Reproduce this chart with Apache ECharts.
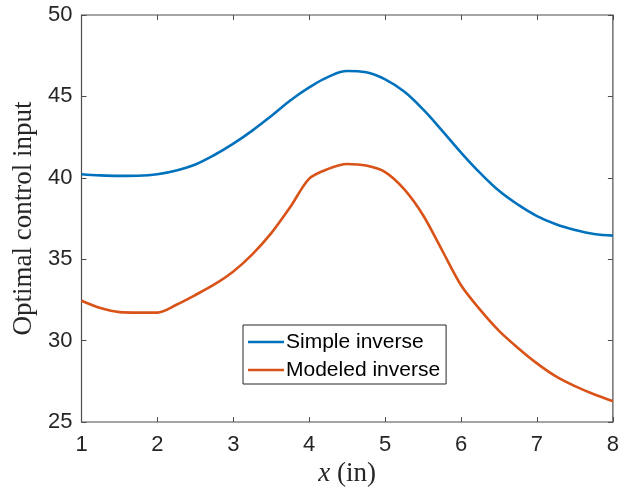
<!DOCTYPE html>
<html>
<head>
<meta charset="utf-8">
<script src="https://cdn.jsdelivr.net/npm/echarts@6/dist/echarts.min.js"></script>
<style>html,body{margin:0;padding:0;background:#fff}#c{width:622px;height:495px}</style>
</head>
<body>
<div id="c"></div>
<script>
var xValues = [1.0,1.25,1.5,1.75,2.0,2.25,2.5,2.75,3.0,3.25,3.5,3.75,4.0,4.25,4.5,4.75,5.0,5.25,5.5,5.75,6.0,6.25,6.5,6.75,7.0,7.25,7.5,7.75,8.0];
var simpleInverse = [40.22,40.15,40.12,40.13,40.22,40.45,40.82,41.4,42.1,42.9,43.8,44.75,45.55,46.2,46.56,46.48,46.05,45.3,44.2,42.9,41.55,40.3,39.2,38.35,37.65,37.15,36.8,36.55,36.45];
var modeledInverse = [32.45,32.0,31.75,31.72,31.72,32.2,32.8,33.45,34.25,35.3,36.6,38.2,39.95,40.55,40.85,40.75,40.35,39.3,37.7,35.55,33.4,31.9,30.6,29.55,28.6,27.8,27.2,26.7,26.28];
var seriesNames = ['Simple inverse','Modeled inverse'];
var xTicks = [1,2,3,4,5,6,7,8];
var yTicks = [25,30,35,40,45,50];

function pairs(ys){ return xValues.map(function(x,i){return [x, ys[i]];}); }
var axisCol = '#4d4d4d';
var chart = echarts.init(document.getElementById('c'));
var baseX = {type:'value', min:xTicks[0], max:xTicks[xTicks.length-1], interval:1, splitLine:{show:false},
  axisLine:{show:false}, axisTick:{inside:true, length:5, lineStyle:{color:axisCol}}};
var baseY = {type:'value', min:yTicks[0], max:yTicks[yTicks.length-1], interval:5, splitLine:{show:false},
  axisLine:{show:false}, axisTick:{inside:true, length:5, lineStyle:{color:axisCol}}};
chart.setOption({
  animation:false,
  grid:{left:81.5, right:9, top:15, bottom:73, show:true, borderColor:axisCol, borderWidth:1.2, backgroundColor:'transparent'},
  xAxis:[
    Object.assign({}, baseX, {position:'bottom',
      axisLabel:{color:'#262626', fontFamily:'Liberation Sans', fontSize:22, margin:12},
      name:'{i|x}  {n|(in)}', nameLocation:'middle', nameGap:30,
      nameTextStyle:{rich:{i:{fontFamily:'Liberation Serif', fontStyle:'italic', fontSize:27, color:'#262626'},
                           n:{fontFamily:'Liberation Serif', fontSize:27, color:'#262626'}}}}),
    Object.assign({}, baseX, {position:'top', axisLabel:{show:false}})
  ],
  yAxis:[
    Object.assign({}, baseY, {position:'left',
      axisLabel:{color:'#262626', fontFamily:'Liberation Sans', fontSize:22, margin:9},
      name:'Optimal control input', nameLocation:'middle', nameGap:44,
      nameTextStyle:{fontFamily:'Liberation Serif', fontSize:27, color:'#262626'}}),
    Object.assign({}, baseY, {position:'right', axisLabel:{show:false}})
  ],
  legend:{
    data:seriesNames, orient:'vertical', left:243, top:325,
    icon:'rect', itemWidth:36, itemHeight:2.5, itemGap:6,
    padding:[6,6,3,5], borderColor:'#262626', borderWidth:1, backgroundColor:'#fff',
    textStyle:{fontFamily:'Liberation Sans', fontSize:21, color:'#000', lineHeight:22, padding:[0,0,0,-3]}
  },
  series:[
    {name:seriesNames[0], type:'line', data:pairs(simpleInverse), symbol:'none', smooth:0.4,
     lineStyle:{color:'#0072BD', width:2.6}, itemStyle:{color:'#0072BD'}},
    {name:seriesNames[1], type:'line', data:pairs(modeledInverse), symbol:'none', smooth:0.3,
     lineStyle:{color:'#D95319', width:2.6}, itemStyle:{color:'#D95319'}}
  ]
});
</script>
</body>
</html>
